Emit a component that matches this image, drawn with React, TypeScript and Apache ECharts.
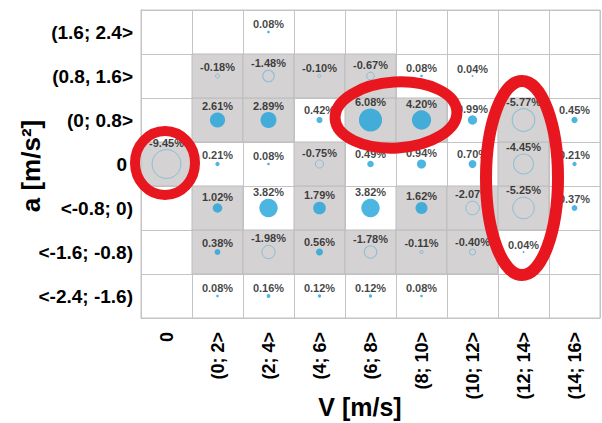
import React, { useEffect, useRef } from "react";
import * as echarts from "echarts";

// Categories
const vCats = ["0", "(0; 2>", "(2; 4>", "(4; 6>", "(6; 8>", "(8; 10>", "(10; 12>", "(12; 14>", "(14; 16>"];
// bottom to top
const aCats = ["<-2.4; -1.6)", "<-1.6; -0.8)", "<-0.8; 0)", "0", "(0; 0.8>", "(0.8, 1.6>", "(1.6; 2.4>"];

// Values per acceleration row [%], one entry per speed category (null = empty)
const row_16_24 = [null, null, 0.08, null, null, null, null, null, null];
const row_08_16 = [null, -0.18, -1.48, -0.1, -0.67, 0.08, 0.04, null, null];
const row_0_08 = [null, 2.61, 2.89, 0.42, 6.08, 4.2, 0.99, -5.77, 0.45];
const row_0 = [-9.45, 0.21, 0.08, -0.75, 0.49, 0.94, 0.7, -4.45, 0.21];
const row_m08_0 = [null, 1.02, 3.82, 1.79, 3.82, 1.62, -2.07, -5.25, 0.37];
const row_m16_m08 = [null, 0.38, -1.98, 0.56, -1.78, -0.11, -0.4, 0.04, null];
const row_m24_m16 = [null, 0.08, 0.16, 0.12, 0.12, 0.08, null, null, null];

// Shaded (grey) cells per row, 1 = shaded
const grey_16_24 = [0, 0, 0, 0, 0, 0, 0, 0, 0];
const grey_08_16 = [0, 1, 1, 1, 1, 0, 0, 0, 0];
const grey_0_08 = [0, 1, 1, 0, 1, 1, 0, 1, 0];
const grey_0 = [1, 0, 0, 1, 0, 0, 0, 1, 0];
const grey_m08_0 = [0, 1, 0, 1, 0, 1, 1, 1, 0];
const grey_m16_m08 = [0, 1, 1, 1, 1, 1, 1, 0, 0];
const grey_m24_m16 = [0, 0, 0, 0, 0, 0, 0, 0, 0];

// bottom to top, matching aCats
const valueRows = [row_m24_m16, row_m16_m08, row_m08_0, row_0, row_0_08, row_08_16, row_16_24];
const greyRows = [grey_m24_m16, grey_m16_m08, grey_m08_0, grey_0, grey_0_08, grey_08_16, grey_16_24];

const FONT = "'Liberation Sans', Arial, sans-serif";

export default function App() {
  const ref = useRef<HTMLDivElement>(null);

  useEffect(() => {
    if (!ref.current) return;
    const chart = echarts.init(ref.current, null, { renderer: "svg" });

    const cellData: number[][] = [];
    greyRows.forEach((row, yi) =>
      row.forEach((g, xi) => {
        if (g) cellData.push([xi, yi]);
      })
    );

    const pointData: any[] = [];
    valueRows.forEach((row, yi) =>
      row.forEach((v, xi) => {
        if (v === null || v === undefined) return;
        const neg = v < 0;
        pointData.push({
          value: [xi, yi, v],
          itemStyle: neg
            ? { color: "rgba(0,0,0,0)", borderColor: "#7cb8d6", borderWidth: 1 }
            : { color: "#1fa3db" },
        });
      })
    );

    chart.setOption({
      animation: false,
      backgroundColor: "#ffffff",
      grid: {
        left: 141,
        top: 10,
        width: 459,
        height: 308,
        show: true,
        borderColor: "#c4c4c4",
        borderWidth: 1,
        backgroundColor: "rgba(0,0,0,0)",
      },
      xAxis: {
        type: "category",
        data: vCats,
        axisLine: { show: true, lineStyle: { color: "#c4c4c4" } },
        axisTick: { show: false },
        axisLabel: {
          interval: 0,
          rotate: 90,
          margin: 14,
          fontSize: 18,
          fontWeight: "bold",
          color: "#000",
          fontFamily: FONT,
        },
        splitLine: { show: true, interval: 0, lineStyle: { color: "#c4c4c4", width: 1 } },
      },
      yAxis: {
        type: "category",
        data: aCats,
        axisLine: { show: true, lineStyle: { color: "#c4c4c4" } },
        axisTick: { show: false },
        axisLabel: {
          interval: 0,
          margin: 8,
          fontSize: 19,
          fontWeight: "bold",
          color: "#000",
          fontFamily: FONT,
          formatter: (v: string) => (v === "0" ? "{z|0}" : v),
          rich: {
            z: { fontSize: 19, fontWeight: "bold", color: "#000", fontFamily: FONT, padding: [0, 6, 0, 0] },
          },
        },
        splitLine: { show: true, interval: 0, lineStyle: { color: "#c4c4c4", width: 1 } },
      },
      series: [
        {
          type: "custom",
          z: 1,
          silent: true,
          data: cellData,
          renderItem: (params: any, api: any) => {
            const p = api.coord([api.value(0), api.value(1)]);
            const s = api.size([1, 1]);
            return {
              type: "rect",
              shape: { x: p[0] - s[0] / 2, y: p[1] - s[1] / 2, width: s[0], height: s[1] },
              style: { fill: "#d4d2d2", stroke: "#bdbdbd", lineWidth: 1 },
            };
          },
        },
        {
          type: "scatter",
          z: 3,
          silent: true,
          data: pointData,
          symbol: "circle",
          symbolSize: (val: number[]) => 9.4 * Math.sqrt(Math.abs(val[2])),
          label: {
            show: true,
            position: "top",
            distance: 1,
            formatter: (p: any) => p.value[2].toFixed(2) + "%",
            fontSize: 11,
            fontWeight: "bold",
            color: "#111",
            fontFamily: FONT,
          },
          emphasis: { disabled: true },
        },
      ],
      graphic: [
        {
          type: "text",
          x: 360,
          y: 407,
          z: 10,
          style: {
            text: "V [m/s]",
            font: `bold 25px ${FONT}`,
            fill: "#000",
            textAlign: "center",
            textVerticalAlign: "middle",
          },
        },
        {
          type: "text",
          x: 31,
          y: 166,
          rotation: Math.PI / 2,
          z: 10,
          style: {
            text: "a [m/s²]",
            font: `bold 26px ${FONT}`,
            fill: "#000",
            textAlign: "center",
            textVerticalAlign: "middle",
          },
        },
        {
          type: "ellipse",
          x: 165,
          y: 163,
          z: 20,
          shape: { cx: 0, cy: 0, rx: 30, ry: 32 },
          style: { fill: "none", stroke: "#e8161e", lineWidth: 10 },
        },
        {
          type: "ellipse",
          x: 396,
          y: 115,
          rotation: 0.06,
          z: 20,
          shape: { cx: 0, cy: 0, rx: 61, ry: 33 },
          style: { fill: "none", stroke: "#e8161e", lineWidth: 11 },
        },
        {
          type: "ellipse",
          x: 522,
          y: 178,
          z: 20,
          shape: { cx: 0, cy: 0, rx: 36, ry: 97 },
          style: { fill: "none", stroke: "#e8161e", lineWidth: 12 },
        },
      ],
    });

    return () => chart.dispose();
  }, []);

  return (
    <div
      ref={ref}
      style={{ position: "fixed", left: 0, top: 0, width: 602, height: 423, background: "#fff" }}
    />
  );
}
